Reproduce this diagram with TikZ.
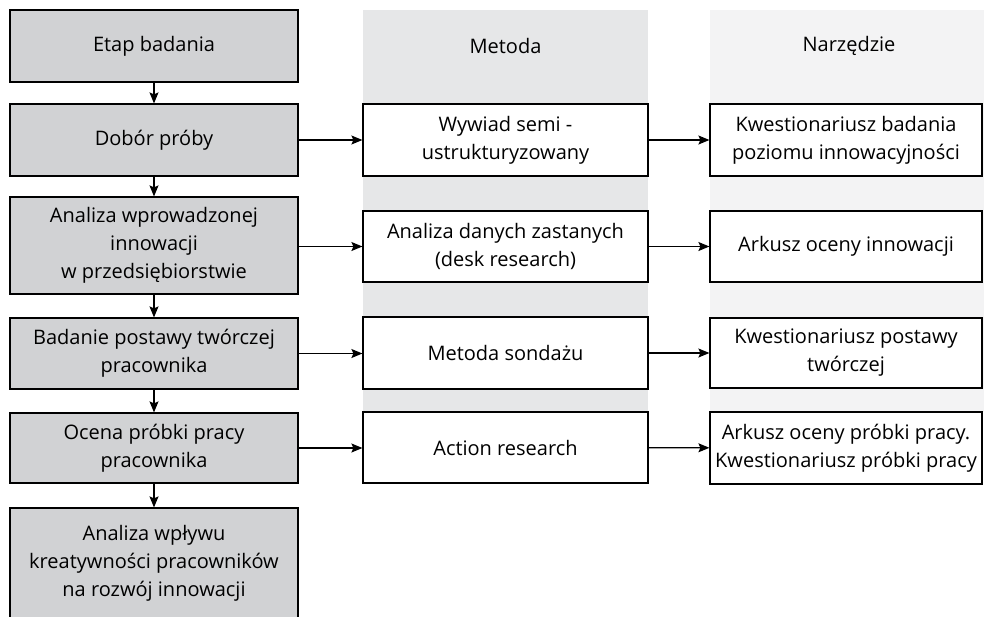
\documentclass[tikz,border=0pt]{standalone}
\usepackage{fontspec}
\setmainfont{Open Sans}
\usetikzlibrary{arrows.meta}
\definecolor{stagegray}{HTML}{D1D2D4}
\definecolor{colmid}{HTML}{E6E7E8}
\definecolor{colright}{HTML}{F3F3F4}
\begin{document}
\begin{tikzpicture}[x=1pt,y=-1pt,
  txt/.style={font=\fontsize{20}{28}\selectfont, align=center},
  stage/.style={txt, draw=black, line width=1.2pt, fill=stagegray, minimum width=288pt, inner sep=0pt},
  method/.style={txt, draw=black, line width=1.2pt, fill=white, minimum width=285pt, inner sep=0pt},
  tool/.style={txt, draw=black, line width=1.2pt, fill=white, minimum width=272pt, inner sep=0pt},
  head/.style={txt},
  conn/.style={line width=1.2pt, -{Stealth[length=11pt,width=9pt,inset=2pt]}}
]
\useasboundingbox (0,0) rectangle (984,616);
\clip (0,0) rectangle (984,616);
\fill[white] (0,0) rectangle (984,616);
% column bands
\fill[colmid] (363,10) rectangle (648,412);
\fill[colright] (710,10) rectangle (1000,412);
\node[head] (hm) at (505.5,46) {Metoda};
\node[head] (hr) at (849,46) {Narzędzie};
% stages
\node[stage, minimum height=72pt] (s1) at (154,46) {Etap badania};
\node[stage, minimum height=72pt] (s2) at (154,140) {Dobór próby};
\node[stage, minimum height=97pt] (s3) at (154,245.5) {Analiza wprowadzonej\\innowacji\\w przedsiębiorstwie};
\node[stage, minimum height=71pt] (s4) at (154,353.5) {Badanie postawy twórczej\\pracownika};
\node[stage, minimum height=70pt] (s5) at (154,448) {Ocena próbki pracy\\pracownika};
\node[stage, minimum height=110pt] (s6) at (154,563) {Analiza wpływu\\kreatywności pracowników\\na rozwój innowacji};
% methods
\node[method, minimum height=72pt] (m1) at (505.5,140) {Wywiad semi -\\ustrukturyzowany};
\node[method, minimum height=71pt] (m2) at (505.5,246.5) {Analiza danych zastanych\\(desk research)};
\node[method, minimum height=72pt] (m3) at (505.5,353) {Metoda sondażu};
\node[method, minimum height=71pt] (m4) at (505.5,447.5) {Action research};
% tools
\node[tool, minimum height=72pt] (r1) at (846,140) {Kwestionariusz badania\\poziomu innowacyjności};
\node[tool, minimum height=71pt] (r2) at (846,246.5) {Arkusz oceny innowacji};
\node[tool, minimum height=70pt] (r3) at (846,353) {Kwestionariusz postawy\\twórczej};
\node[tool, minimum height=72pt] (r4) at (846,448) {Arkusz oceny próbki pracy.\\Kwestionariusz próbki pracy};
% vertical arrows
\draw[conn] (s1) -- (s2);
\draw[conn] (s2) -- (s3);
\draw[conn] (s3) -- (s4);
\draw[conn] (s4) -- (s5);
\draw[conn] (s5) -- (s6);
% horizontal arrows
\draw[conn] (s2) -- (m1);
\draw[conn] (s3.east |- m2) -- (m2);
\draw[conn] (s4) -- (m3.west |- s4);
\draw[conn] (s5) -- (m4.west |- s5);
\draw[conn] (m1) -- (r1);
\draw[conn] (m2) -- (r2);
\draw[conn] (m3) -- (r3);
\draw[conn] (m4) -- (r4);
\end{tikzpicture}
\end{document}
